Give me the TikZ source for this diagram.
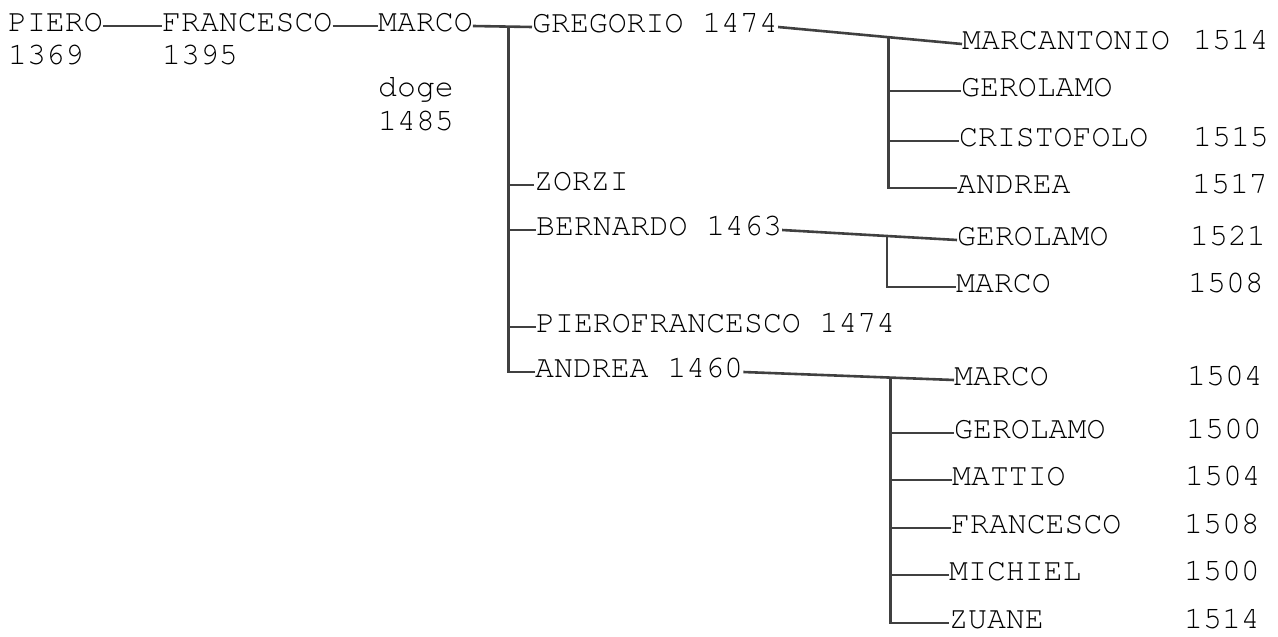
\documentclass[tikz,border=0pt]{standalone}
\usepackage{fontspec}
\newfontfamily\typewriter{texgyrecursor-regular.otf}
\usetikzlibrary{calc}

\begin{document}
\begin{tikzpicture}[x = 1pt, y = -1pt,
	person/.style = {anchor = west, inner sep = 0pt, text height = 14pt, text depth = 3pt, font = \typewriter\fontsize{31.5pt}{31.5pt}\selectfont},
	link/.style = {draw = black!75, line width = 2.6pt}]

	\useasboundingbox (0, 0) rectangle (1278, 637);

	% First generations

	\node [person] (piero) at (8, 26) {PIERO};
	\node [person] (piero year) at (8, 59) {1369};
	\node [person] (francesco) at (162, 26) {FRANCESCO};
	\node [person] (francesco year) at (162, 59) {1395};
	\node [person] (marco) at (378, 26) {MARCO};
	\node [person] (marco title) at (378, 91) {doge};
	\node [person] (marco year) at (378, 125) {1485};

	\draw [link] (piero.east) -- (francesco.west);
	\draw [link] (francesco.east) -- (marco.west);

	% Sons of Marco

	\node [person] (gregorio) at (532, 27) {GREGORIO 1474};
	\node [person] (zorzi) at (534, 185) {ZORZI};
	\node [person] (bernardo) at (536, 230) {BERNARDO 1463};
	\node [person] (pierofrancesco) at (536, 327) {PIEROFRANCESCO 1474};
	\node [person] (andrea) at (535, 372) {ANDREA 1460};

	\draw [link] (marco.east) -- (gregorio.west);
	\coordinate (marco fork) at ($(marco.east)!0.6!(gregorio.west)$);
	\draw [link] (marco fork) -- (marco fork |- andrea.west) -- (andrea.west);
	\draw [link] (marco fork |- zorzi.west) -- (zorzi.west);
	\draw [link] (marco fork |- bernardo.west) -- (bernardo.west);
	\draw [link] (marco fork |- pierofrancesco.west) -- (pierofrancesco.west);

	% Sons of Gregorio

	\node [person] (marcantonio) at (962, 44) {MARCANTONIO};
	\node [person] (marcantonio year) at (1193, 44) {1514};
	\node [person] (gerolamo g) at (961, 91) {GEROLAMO};
	\node [person] (cristofolo) at (959, 141) {CRISTOFOLO};
	\node [person] (cristofolo year) at (1193, 141) {1515};
	\node [person] (andrea g) at (957, 188) {ANDREA};
	\node [person] (andrea g year) at (1192, 188) {1517};

	\draw [link] (gregorio.east) -- (marcantonio.west);
	\coordinate (gregorio fork) at ($(gregorio.east)!0.6!(marcantonio.west)$);
	\draw [link] (gregorio fork) -- (gregorio fork |- andrea g.west) -- (andrea g.west);
	\draw [link] (gregorio fork |- gerolamo g.west) -- (gerolamo g.west);
	\draw [link] (gregorio fork |- cristofolo.west) -- (cristofolo.west);

	% Sons of Bernardo

	\node [person] (gerolamo b) at (957, 240) {GEROLAMO};
	\node [person] (gerolamo b year) at (1190, 240) {1521};
	\node [person] (marco b) at (956, 287) {MARCO};
	\node [person] (marco b year) at (1188, 287) {1508};

	\draw [link] (bernardo.east) -- (gerolamo b.west);
	\coordinate (bernardo fork) at ($(bernardo.east)!0.6!(gerolamo b.west)$);
	\draw [link] (bernardo fork) -- (bernardo fork |- marco b.west) -- (marco b.west);

	% Sons of Andrea

	\node [person] (marco a) at (954, 380) {MARCO};
	\node [person] (marco a year) at (1187, 380) {1504};
	\node [person] (gerolamo a) at (954, 433) {GEROLAMO};
	\node [person] (gerolamo a year) at (1186, 433) {1500};
	\node [person] (mattio) at (952, 480) {MATTIO};
	\node [person] (mattio year) at (1185, 480) {1504};
	\node [person] (francesco a) at (951, 528) {FRANCESCO};
	\node [person] (francesco a year) at (1184, 528) {1508};
	\node [person] (michiel) at (949, 575) {MICHIEL};
	\node [person] (michiel year) at (1184, 575) {1500};
	\node [person] (zuane) at (949, 623) {ZUANE};
	\node [person] (zuane year) at (1184, 623) {1514};

	\draw [link] (andrea.east) -- (marco a.west);
	\coordinate (andrea fork) at ($(andrea.east)!0.7!(marco a.west)$);
	\draw [link] (andrea fork) -- (andrea fork |- zuane.west) -- (zuane.west);
	\draw [link] (andrea fork |- gerolamo a.west) -- (gerolamo a.west);
	\draw [link] (andrea fork |- mattio.west) -- (mattio.west);
	\draw [link] (andrea fork |- francesco a.west) -- (francesco a.west);
	\draw [link] (andrea fork |- michiel.west) -- (michiel.west);

\end{tikzpicture}
\end{document}
